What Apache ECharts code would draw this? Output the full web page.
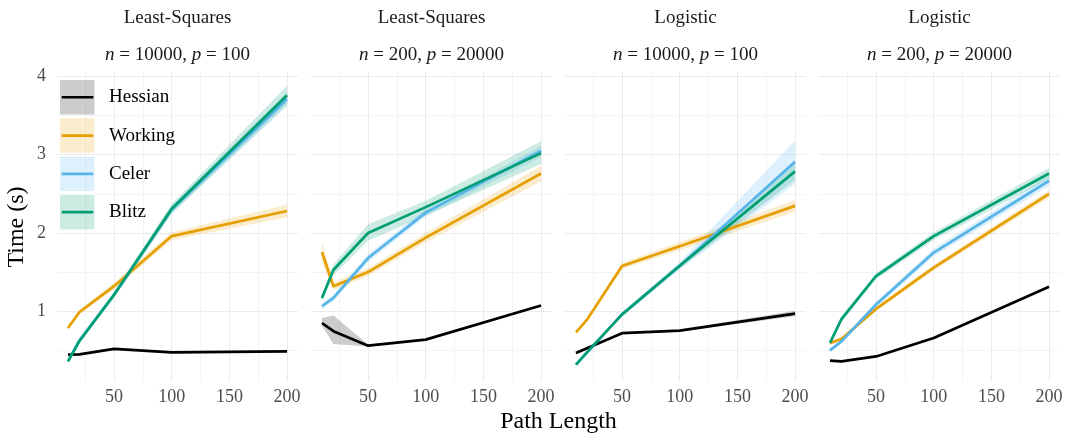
<!DOCTYPE html>
<html><head><meta charset="utf-8">
<script src="https://cdn.jsdelivr.net/npm/echarts@6/dist/echarts.min.js"></script>
<style>html,body{margin:0;padding:0;background:#fff}#c{width:1068px;height:434px}</style>
</head><body><div id="c"></div>
<script>
// ---------------- data ----------------
const pathLength = [10, 20, 50, 100, 200];
const methods = ['Hessian', 'Working', 'Celer', 'Blitz'];
const facetLoss = ['Least-Squares', 'Least-Squares', 'Logistic', 'Logistic'];
const facetN = ['10000', '200', '10000', '200'];
const facetP = ['100', '20000', '100', '20000'];
const xTickLabels = [50, 100, 150, 200];
const yTickLabels = [1, 2, 3, 4];

// Panel 1: Least-Squares, n = 10000, p = 100
const ls1_hessian    = [0.445, 0.45, 0.52, 0.475, 0.487];
const ls1_hessian_lo = [0.435, 0.44, 0.51, 0.465, 0.477];
const ls1_hessian_hi = [0.455, 0.46, 0.53, 0.485, 0.497];
const ls1_working    = [0.787, 0.99, 1.32, 1.96, 2.28];
const ls1_working_lo = [0.76, 0.96, 1.28, 1.91, 2.20];
const ls1_working_hi = [0.81, 1.02, 1.36, 2.01, 2.36];
const ls1_celer      = [0.36, 0.63, 1.21, 2.30, 3.71];
const ls1_celer_lo   = [0.34, 0.60, 1.18, 2.25, 3.62];
const ls1_celer_hi   = [0.38, 0.66, 1.24, 2.35, 3.80];
const ls1_blitz      = [0.36, 0.62, 1.21, 2.31, 3.76];
const ls1_blitz_lo   = [0.34, 0.59, 1.17, 2.25, 3.64];
const ls1_blitz_hi   = [0.38, 0.65, 1.25, 2.37, 3.88];

// Panel 2: Least-Squares, n = 200, p = 20000
const ls2_hessian    = [0.85, 0.745, 0.56, 0.637, 1.073];
const ls2_hessian_lo = [0.81, 0.58, 0.55, 0.63, 1.065];
const ls2_hessian_hi = [0.915, 0.945, 0.575, 0.645, 1.08];
const ls2_working    = [1.756, 1.32, 1.50, 1.94, 2.76];
const ls2_working_lo = [1.62, 1.27, 1.45, 1.88, 2.66];
const ls2_working_hi = [1.885, 1.37, 1.55, 2.00, 2.86];
const ls2_celer      = [1.064, 1.17, 1.68, 2.26, 3.05];
const ls2_celer_lo   = [1.03, 1.13, 1.63, 2.21, 2.97];
const ls2_celer_hi   = [1.10, 1.21, 1.73, 2.31, 3.11];
const ls2_blitz      = [1.17, 1.53, 2.00, 2.33, 3.02];
const ls2_blitz_lo   = [1.13, 1.46, 1.90, 2.22, 2.88];
const ls2_blitz_hi   = [1.21, 1.60, 2.11, 2.41, 3.17];

// Panel 3: Logistic, n = 10000, p = 100
const lg1_hessian    = [0.467, 0.53, 0.72, 0.753, 0.97];
const lg1_hessian_lo = [0.457, 0.52, 0.71, 0.74, 0.935];
const lg1_hessian_hi = [0.477, 0.54, 0.73, 0.766, 1.005];
const lg1_working    = [0.73, 0.90, 1.577, 1.83, 2.346];
const lg1_working_lo = [0.71, 0.88, 1.54, 1.78, 2.27];
const lg1_working_hi = [0.75, 0.92, 1.62, 1.88, 2.42];
const lg1_celer      = [0.317, 0.48, 0.96, 1.58, 2.91];
const lg1_celer_lo   = [0.31, 0.47, 0.94, 1.53, 2.63];
const lg1_celer_hi   = [0.325, 0.49, 0.98, 1.63, 3.18];
const lg1_blitz      = [0.317, 0.48, 0.96, 1.58, 2.787];
const lg1_blitz_lo   = [0.31, 0.47, 0.94, 1.55, 2.68];
const lg1_blitz_hi   = [0.325, 0.49, 0.98, 1.61, 2.89];

// Panel 4: Logistic, n = 200, p = 20000
const lg2_hessian    = [0.368, 0.36, 0.423, 0.659, 1.313];
const lg2_hessian_lo = [0.358, 0.35, 0.413, 0.649, 1.30];
const lg2_hessian_hi = [0.378, 0.37, 0.433, 0.669, 1.326];
const lg2_working    = [0.595, 0.646, 1.03, 1.556, 2.50];
const lg2_working_lo = [0.57, 0.62, 1.00, 1.52, 2.45];
const lg2_working_hi = [0.62, 0.67, 1.06, 1.59, 2.55];
const lg2_celer      = [0.50, 0.615, 1.086, 1.75, 2.667];
const lg2_celer_lo   = [0.48, 0.59, 1.05, 1.70, 2.60];
const lg2_celer_hi   = [0.52, 0.64, 1.12, 1.80, 2.73];
const lg2_blitz      = [0.595, 0.90, 1.45, 1.96, 2.76];
const lg2_blitz_lo   = [0.57, 0.86, 1.41, 1.91, 2.69];
const lg2_blitz_hi   = [0.62, 0.94, 1.49, 2.01, 2.83];

// ---------------- build ----------------
const panels = [
  [[ls1_hessian, ls1_hessian_lo, ls1_hessian_hi], [ls1_working, ls1_working_lo, ls1_working_hi],
   [ls1_celer, ls1_celer_lo, ls1_celer_hi], [ls1_blitz, ls1_blitz_lo, ls1_blitz_hi]],
  [[ls2_hessian, ls2_hessian_lo, ls2_hessian_hi], [ls2_working, ls2_working_lo, ls2_working_hi],
   [ls2_celer, ls2_celer_lo, ls2_celer_hi], [ls2_blitz, ls2_blitz_lo, ls2_blitz_hi]],
  [[lg1_hessian, lg1_hessian_lo, lg1_hessian_hi], [lg1_working, lg1_working_lo, lg1_working_hi],
   [lg1_celer, lg1_celer_lo, lg1_celer_hi], [lg1_blitz, lg1_blitz_lo, lg1_blitz_hi]],
  [[lg2_hessian, lg2_hessian_lo, lg2_hessian_hi], [lg2_working, lg2_working_lo, lg2_working_hi],
   [lg2_celer, lg2_celer_lo, lg2_celer_hi], [lg2_blitz, lg2_blitz_lo, lg2_blitz_hi]]
];

const FONT = "'Liberation Serif', 'DejaVu Serif', serif";
const lineColors = ['#000000', '#E69F00', '#56B4E9', '#009E73'];
const fillColors = ['rgba(0,0,0,0.2)', 'rgba(230,159,0,0.2)', 'rgba(86,180,233,0.2)', 'rgba(0,158,115,0.2)'];
const gridLefts = [57, 311, 565, 819];
const gridW = 241, gridTop = 71.7, gridH = 310;
const MAJOR = '#ebebeb', MINOR = '#f4f4f4';

const grids = [], xAxes = [], yAxes = [], series = [], graphics = [];

gridLefts.forEach((left, p) => {
  grids.push({ left: left, top: gridTop, width: gridW, height: gridH, containLabel: false });
  xAxes.push({
    type: 'value', gridIndex: p, min: 0.5, max: 209.5,
    axisLine: { show: false },
    axisTick: { show: false, customValues: [25, 50, 75, 100, 125, 150, 175, 200] },
    axisLabel: { customValues: xTickLabels, color: '#4d4d4d', fontFamily: FONT, fontSize: 18, margin: 7 },
    splitLine: { show: true, lineStyle: { color: [MINOR, MAJOR], width: 1 } }
  });
  yAxes.push({
    type: 'value', gridIndex: p, min: 0.1, max: 4.06,
    axisLine: { show: false },
    axisTick: { show: false, customValues: [0.5, 1, 1.5, 2, 2.5, 3, 3.5, 4] },
    axisLabel: { show: p === 0, customValues: yTickLabels, color: '#4d4d4d', fontFamily: FONT, fontSize: 18, margin: 11 },
    splitLine: { show: true, lineStyle: { color: [MINOR, MAJOR], width: 1 } }
  });

  // ribbons first
  panels[p].forEach((trip, m) => {
    const rows = pathLength.map((x, i) => [x, trip[1][i], trip[2][i]]);
    series.push({
      type: 'custom', name: methods[m] + ' band', xAxisIndex: p, yAxisIndex: p, z: 1, silent: true,
      data: rows,
      encode: { x: 0, y: [1, 2] },
      renderItem: function (params, api) {
        if (params.dataIndex !== 0) return;
        const pts = [];
        for (let i = 0; i < rows.length; i++) pts.push(api.coord([rows[i][0], rows[i][2]]));
        for (let i = rows.length - 1; i >= 0; i--) pts.push(api.coord([rows[i][0], rows[i][1]]));
        return { type: 'polygon', shape: { points: pts }, style: { fill: fillColors[m], stroke: null } };
      }
    });
  });
  // lines
  panels[p].forEach((trip, m) => {
    series.push({
      type: 'line', name: methods[m], xAxisIndex: p, yAxisIndex: p, z: 3,
      data: pathLength.map((x, i) => [x, trip[0][i]]),
      showSymbol: false, symbol: 'none', silent: true, animation: false,
      lineStyle: { color: lineColors[m], width: 2.7, join: 'round', cap: 'butt' }
    });
  });

  // facet strip titles
  const cx = left + gridW / 2;
  graphics.push({
    type: 'text', x: cx, y: 17.6, silent: true,
    style: { text: facetLoss[p], align: 'center', verticalAlign: 'middle', fontFamily: FONT, fontSize: 19, fill: '#1a1a1a' }
  });
  graphics.push({
    type: 'text', x: cx, y: 55.3, silent: true,
    style: {
      text: '{i|n} = ' + facetN[p] + ', {i|p} = ' + facetP[p],
      align: 'center', verticalAlign: 'middle', fontFamily: FONT, fontSize: 19, fill: '#1a1a1a',
      rich: { i: { fontStyle: 'italic', fontFamily: FONT, fontSize: 19, fill: '#1a1a1a' } }
    }
  });
});

// axis titles
graphics.push({
  type: 'text', x: 558.5, y: 421.5, silent: true,
  style: { text: 'Path Length', align: 'center', verticalAlign: 'middle', fontFamily: FONT, fontSize: 24, fill: '#000' }
});
graphics.push({
  type: 'text', x: 17, y: 227, rotation: Math.PI / 2, silent: true,
  style: { text: 'Time (s)', align: 'center', verticalAlign: 'middle', fontFamily: FONT, fontSize: 24, fill: '#000' }
});

// legend (drawn inside first panel)
methods.forEach((name, m) => {
  const top = 80 + m * 38.3;
  graphics.push({
    type: 'rect', silent: true, z: 10,
    shape: { x: 60, y: top, width: 34.5, height: 34.5 },
    style: { fill: fillColors[m] }
  });
  graphics.push({
    type: 'line', silent: true, z: 11,
    shape: { x1: 61.7, y1: top + 17.25, x2: 93.3, y2: top + 17.25 },
    style: { stroke: lineColors[m], lineWidth: 2.7 }
  });
  graphics.push({
    type: 'text', x: 109, y: top + 17.25, silent: true, z: 11,
    style: { text: name, align: 'left', verticalAlign: 'middle', fontFamily: FONT, fontSize: 19, fill: '#000' }
  });
});

const chart = echarts.init(document.getElementById('c'), null, { renderer: 'canvas' });
chart.setOption({
  animation: false,
  backgroundColor: '#ffffff',
  grid: grids, xAxis: xAxes, yAxis: yAxes, series: series, graphic: graphics
});
</script></body></html>
